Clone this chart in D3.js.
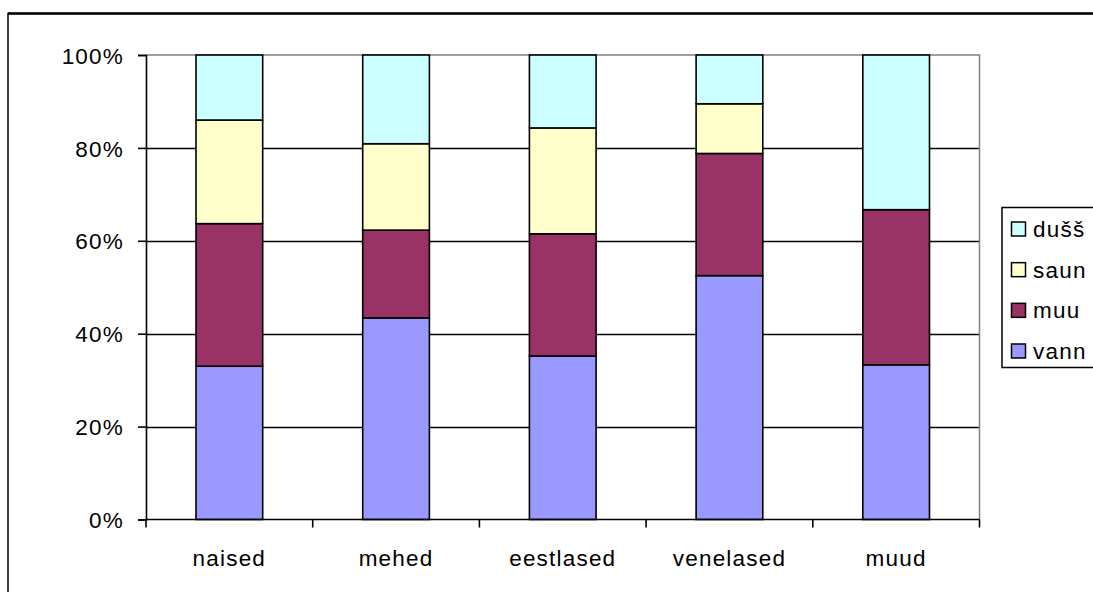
<!DOCTYPE html>
<html><head><meta charset="utf-8">
<script src="https://cdn.jsdelivr.net/npm/d3@7"></script>
<style>
body{margin:0;background:#fff;}
svg text{font-family:"Liberation Sans",Arial,sans-serif;font-size:22.5px;fill:#000;letter-spacing:1.2px;}
</style></head>
<body><svg id="c" width="1093" height="592"></svg>
<script>
const categories = ["naised","mehed","eestlased","venelased","muud"];
const seriesNames = ["vann","muu","saun","dušš"];
const vann = [33.0, 43.4, 35.2, 52.5, 33.3];
const muu  = [30.7, 18.9, 26.3, 26.3, 33.4];
const saun = [22.3, 18.6, 22.8, 10.7, 0];
const duss = [14.0, 19.1, 15.7, 10.5, 33.3];
const yTicks = [0, 0.2, 0.4, 0.6, 0.8, 1.0];
const colors = ["#9999FF","#993366","#FFFFCC","#CCFFFF"];

const svg = d3.select("#c");
const L = 146, R = 979.5, T = 55, B = 519.5;

// outer frame
svg.append("path").attr("d", `M8,600 L8,13.5 L1100,13.5`).attr("fill","none").attr("stroke","#000").attr("stroke-width",1.5);
svg.append("line").attr("x1",8).attr("x2",1100).attr("y1",13.5).attr("y2",13.5).attr("stroke","#000").attr("stroke-width",2.5);

const x = d3.scaleBand().domain(categories).range([L, R]).paddingInner(0.6).paddingOuter(0.3);
const y = d3.scaleLinear().domain([0, 1]).range([B, T]);

// gridlines
svg.append("g").selectAll("line").data(yTicks.filter(t => t > 0 && t < 1)).join("line")
  .attr("x1", L).attr("x2", R).attr("y1", d => Math.round(y(d)) + 0.5).attr("y2", d => Math.round(y(d)) + 0.5)
  .attr("stroke","#000").attr("stroke-width",1.5);
// plot area border top/right
svg.append("path").attr("d", `M${L},${T} L${R},${T} L${R},${B}`).attr("fill","none").attr("stroke","#808080").attr("stroke-width",1.5);

const rows = categories.map((c, i) => {
  const tot = vann[i] + muu[i] + saun[i] + duss[i];
  return {cat: c, vann: vann[i]/tot, muu: muu[i]/tot, saun: saun[i]/tot, "dušš": duss[i]/tot};
});
const stack = d3.stack().keys(seriesNames)(rows);

svg.append("g").selectAll("g").data(stack).join("g")
  .attr("fill", (d, i) => colors[i])
  .selectAll("rect").data(d => d.filter(p => p[1] - p[0] > 0)).join("rect")
  .attr("x", d => x(d.data.cat)).attr("width", x.bandwidth())
  .attr("y", d => y(d[1])).attr("height", d => y(d[0]) - y(d[1]))
  .attr("stroke","#000").attr("stroke-width",1.6);

// y axis
const yAxis = svg.append("g").attr("transform", `translate(${L},0)`)
  .call(d3.axisLeft(y).tickValues(yTicks).tickFormat(d3.format(".0%")).tickSize(8).tickPadding(14));
yAxis.select(".domain").attr("stroke","#000").attr("stroke-width",1.6);
yAxis.selectAll(".tick line").attr("stroke","#000").attr("stroke-width",1.6);
yAxis.selectAll("text").attr("font-size",null).attr("font-family",null).attr("dy","0.36em");

// x axis
const xb = d3.scaleLinear().domain([0, categories.length]).range([L, R]);
const xAxis = svg.append("g").attr("transform", `translate(0,${B})`);
xAxis.append("line").attr("x1", L).attr("x2", R).attr("stroke","#000").attr("stroke-width",1.6);
xAxis.selectAll(".tk").data(d3.range(categories.length + 1)).join("line")
  .attr("x1", d => xb(d)).attr("x2", d => xb(d)).attr("y1", 0).attr("y2", 8)
  .attr("stroke","#000").attr("stroke-width",1.6);
xAxis.selectAll("text").data(categories).join("text")
  .attr("x", d => x(d) + x.bandwidth()/2).attr("y", 46).attr("text-anchor","middle").text(d => d);

// legend
const lg = svg.append("g");
lg.append("rect").attr("x", 1002).attr("y", 207.5).attr("width", 110).attr("height", 160)
  .attr("fill","#fff").attr("stroke","#000").attr("stroke-width",1.5);
const legendOrder = seriesNames.slice().reverse();
const legendColors = colors.slice().reverse();
const ly = d3.scalePoint().domain(legendOrder).range([229, 351]);
const li = lg.selectAll("g.li").data(legendOrder).join("g").attr("class","li")
  .attr("transform", d => `translate(1011.5,${ly(d)})`);
li.append("rect").attr("x", 0).attr("y", -7).attr("width", 14).attr("height", 14)
  .attr("fill", (d, i) => legendColors[i]).attr("stroke","#000").attr("stroke-width",1.5);
li.append("text").attr("x", 21.5).attr("y", 0).attr("dy","0.36em").text(d => d);
</script></body></html>
